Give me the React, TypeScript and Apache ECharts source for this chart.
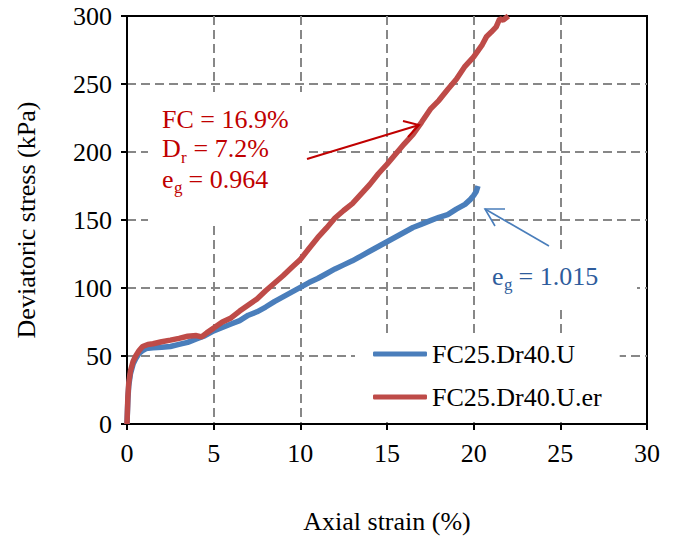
import React, { useEffect, useRef } from "react";
import * as echarts from "echarts";

const blueName = "FC25.Dr40.U";
const redName = "FC25.Dr40.U.er";

const blueStrain = [0, 0.05, 0.1, 0.2, 0.35, 0.5, 0.7, 0.9, 1.1, 1.5, 2.0, 2.5, 3.0, 3.5, 4.0, 4.5, 5.0, 5.5, 6.0, 6.5, 7.0, 7.5, 8.0, 8.5, 9.0, 9.5, 10.0, 10.5, 11.0, 11.5, 12.0, 12.5, 13.0, 13.5, 14.0, 14.5, 15.0, 15.5, 16.0, 16.5, 17.0, 17.5, 18.0, 18.5, 19.0, 19.5, 19.8, 20.0, 20.15, 20.25];
const blueStress = [0, 18, 28, 37, 44, 48, 52, 54, 55.5, 56, 56.5, 57, 58.5, 60, 62.5, 65, 68.5, 71, 73.5, 76, 80, 82.5, 86, 90, 93.5, 97, 100.5, 104, 107, 110.5, 114, 117, 120, 123.5, 127, 130.5, 134, 137.5, 141, 144.5, 147, 149.5, 152, 154, 158, 161.5, 165, 168, 171, 175];

const redStrain = [0, 0.05, 0.1, 0.2, 0.35, 0.5, 0.7, 0.9, 1.2, 1.5, 2.0, 2.5, 3.0, 3.5, 4.0, 4.3, 4.6, 5.0, 5.5, 6.0, 6.5, 7.0, 7.5, 8.0, 8.5, 9.0, 9.5, 10.0, 10.5, 11.0, 11.5, 12.0, 12.5, 13.0, 13.5, 14.0, 14.5, 15.0, 15.5, 16.0, 16.5, 17.0, 17.5, 18.0, 18.5, 19.0, 19.5, 20.0, 20.5, 20.75, 21.0, 21.3, 21.5, 21.7, 22.0];
const redStress = [0, 20, 30, 39, 46, 50, 54, 57, 58.5, 59, 60.5, 61.7, 63, 64.5, 65, 64, 67, 70.5, 75, 78, 83, 87.5, 92, 98, 103.5, 109, 115, 121, 129, 137, 144, 151.5, 157, 162, 169, 176, 184, 191, 198.5, 206, 213, 222, 231.5, 238, 246, 253.5, 263, 270, 279, 285, 288, 292, 298, 297, 300];

const xTicks = [0, 5, 10, 15, 20, 25, 30];
const yTicks = [0, 50, 100, 150, 200, 250, 300];

const FONT = "Liberation Serif";
const RED_TXT = "#C00000";
const BLUE_TXT = "#2E5C9C";

function txt(x: number, baseline: number, text: string, size: number, color: string) {
  return {
    type: "text",
    x,
    y: baseline - 0.34 * size,
    z: 10,
    style: {
      text,
      fill: color,
      fontSize: size,
      fontFamily: FONT,
      align: "left",
      verticalAlign: "middle",
    },
  };
}

export default function App() {
  const ref = useRef<HTMLDivElement>(null);
  useEffect(() => {
    if (!ref.current) return;
    const chart = echarts.init(ref.current, undefined, { renderer: "svg" });
    const blueData = blueStrain.map((s, i) => [s, blueStress[i]]);
    const redData = redStrain.map((s, i) => [s, redStress[i]]);
    const gridLine = { show: true, showMinLine: false, showMaxLine: false, lineStyle: { color: "#878787", width: 2, type: [9, 5] } };
    chart.setOption({
      animation: false,
      backgroundColor: "#fff",
      textStyle: { fontFamily: FONT },
      grid: { left: 127, right: 31, top: 16, bottom: 111, show: true, borderColor: "#000", borderWidth: 2, backgroundColor: "transparent" },
      xAxis: {
        type: "value",
        min: xTicks[0],
        max: xTicks[xTicks.length - 1],
        interval: 5,
        name: "Axial strain (%)",
        nameLocation: "middle",
        nameGap: 84,
        nameTextStyle: { fontSize: 26, color: "#000", fontFamily: FONT },
        axisLine: { lineStyle: { color: "#000", width: 2 } },
        axisTick: { show: true, length: 6, inside: false, lineStyle: { color: "#000", width: 2 } },
        axisLabel: { fontSize: 26, color: "#000", margin: 16, fontFamily: FONT },
        splitLine: gridLine,
      },
      yAxis: {
        type: "value",
        min: yTicks[0],
        max: yTicks[yTicks.length - 1],
        interval: 50,
        name: "Deviatoric stress (kPa)",
        nameLocation: "middle",
        nameGap: 88,
        nameTextStyle: { fontSize: 26, color: "#000", fontFamily: FONT },
        axisLine: { show: true, lineStyle: { color: "#000", width: 2 } },
        axisTick: { show: true, length: 6, inside: false, lineStyle: { color: "#000", width: 2 } },
        axisLabel: { fontSize: 26, color: "#000", margin: 15, fontFamily: FONT },
        splitLine: gridLine,
      },
      legend: {
        orient: "vertical",
        left: 355,
        top: 333,
        padding: [8, 18, 8, 18],
        backgroundColor: "#fff",
        icon: "roundRect",
        itemWidth: 54,
        itemHeight: 5,
        itemGap: 17,
        textStyle: { fontSize: 26, color: "#000", fontFamily: FONT, lineHeight: 24 },
        data: [blueName, redName],
      },
      series: [
        {
          name: blueName,
          type: "line",
          data: blueData,
          symbol: "none",
          showSymbol: false,
          lineStyle: { color: "#4A7EBB", width: 5.5 },
          itemStyle: { color: "#4A7EBB" },
          z: 3,
        },
        {
          name: redName,
          type: "line",
          data: redData,
          symbol: "none",
          showSymbol: false,
          lineStyle: { color: "#BE4B48", width: 5.5 },
          itemStyle: { color: "#BE4B48" },
          z: 4,
        },
      ],
      graphic: [
        { type: "rect", z: 1, shape: { x: 148, y: 92, width: 158, height: 131 }, style: { fill: "#fff" } },
        { type: "rect", z: 1, shape: { x: 476, y: 250, width: 161, height: 60 }, style: { fill: "#fff" } },
        txt(162, 128, "FC = 16.9%", 26, RED_TXT),
        txt(162, 157, "D", 26, RED_TXT),
        txt(181, 163, "r", 17, RED_TXT),
        txt(187, 157, " = 7.2%", 26, RED_TXT),
        txt(162, 188, "e", 26, RED_TXT),
        txt(174, 193, "g", 17, RED_TXT),
        txt(182, 188, " = 0.964", 26, RED_TXT),
        txt(492, 285, "e", 26, BLUE_TXT),
        txt(504, 290, "g", 17, BLUE_TXT),
        txt(512, 285, " = 1.015", 26, BLUE_TXT),
        { type: "line", z: 10, shape: { x1: 307, y1: 159, x2: 419, y2: 125 }, style: { stroke: RED_TXT, lineWidth: 2 } },
        { type: "polyline", z: 10, shape: { points: [[403, 121], [419, 125], [408, 137]] }, style: { stroke: RED_TXT, lineWidth: 2, fill: null } },
        { type: "line", z: 10, shape: { x1: 549, y1: 246, x2: 485, y2: 209 }, style: { stroke: "#4A7EBB", lineWidth: 1.6 } },
        { type: "polyline", z: 10, shape: { points: [[505, 209], [485, 209], [495, 226]] }, style: { stroke: "#4A7EBB", lineWidth: 1.6, fill: null } },
      ],
    });
    return () => chart.dispose();
  }, []);
  return <div ref={ref} style={{ position: "fixed", left: 0, top: 0, width: 678, height: 539 }} />;
}
